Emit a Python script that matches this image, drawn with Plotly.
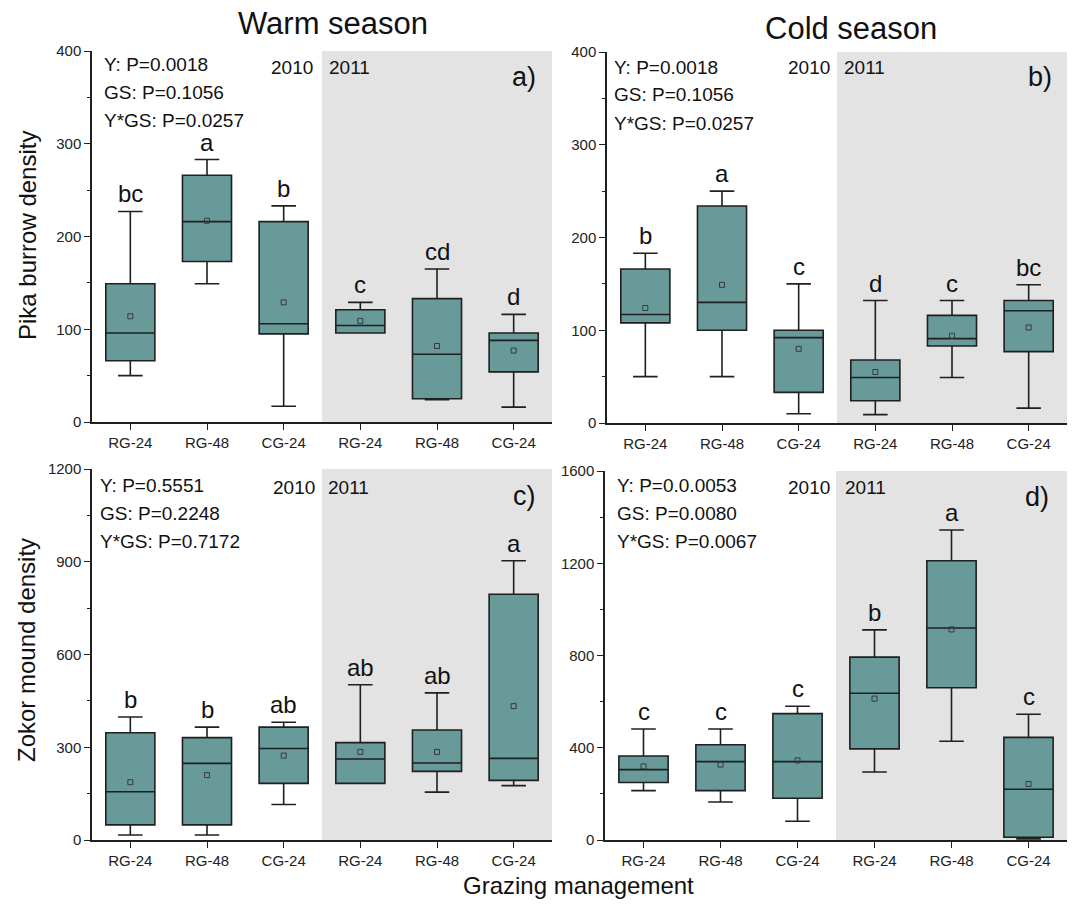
import plotly.graph_objects as go

W, H = 1072, 907
FONT = "Arial, Liberation Sans, Helvetica, sans-serif"

categories = ["RG-24", "RG-48", "CG-24", "RG-24", "RG-48", "CG-24"]

# Panel a: Pika burrow density, warm season
a_lower = [50, 149, 17, 96, 24, 16]
a_q1 = [66, 173, 95, 96, 25, 54]
a_median = [96, 216, 106, 104, 73, 88]
a_q3 = [149, 266, 216, 121, 133, 96]
a_upper = [227, 283, 233, 129, 165, 116]
a_mean = [114, 217, 129, 109, 82, 77]
a_letters = ["bc", "a", "b", "c", "cd", "d"]

# Panel b: Pika burrow density, cold season
b_lower = [50, 50, 10, 9, 49, 16]
b_q1 = [108, 100, 33, 24, 83, 77]
b_median = [117, 130, 92, 49, 91, 121]
b_q3 = [166, 234, 100, 68, 116, 132]
b_upper = [183, 250, 150, 132, 132, 149]
b_mean = [124, 149, 80, 55, 94, 103]
b_letters = ["b", "a", "c", "d", "c", "bc"]

# Panel c: Zokor mound density, warm season
c_lower = [16, 16, 115, 183, 155, 176]
c_q1 = [49, 49, 183, 183, 222, 193]
c_median = [156, 248, 296, 262, 249, 264]
c_q3 = [347, 331, 365, 315, 356, 795]
c_upper = [398, 365, 381, 502, 476, 903]
c_mean = [187, 210, 273, 285, 285, 433]
c_letters = ["b", "b", "ab", "ab", "ab", "a"]

# Panel d: Zokor mound density, cold season
d_lower = [214, 165, 81, 295, 428, 5]
d_q1 = [249, 214, 181, 395, 660, 12]
d_median = [305, 340, 340, 636, 919, 220]
d_q3 = [364, 413, 548, 793, 1211, 445]
d_upper = [481, 481, 580, 911, 1344, 545]
d_mean = [319, 327, 345, 613, 913, 243]
d_letters = ["c", "c", "c", "b", "a", "c"]

stats_a = ["Y: P=0.0018", "GS: P=0.1056", "Y*GS: P=0.0257"]
stats_b = ["Y: P=0.0018", "GS: P=0.1056", "Y*GS: P=0.0257"]
stats_c = ["Y: P=0.5551", "GS: P=0.2248", "Y*GS: P=0.7172"]
stats_d = ["Y: P=0.0.0053", "GS: P=0.0080", "Y*GS: P=0.0067"]

panels = [
    dict(lo=a_lower, q1=a_q1, med=a_median, q3=a_q3, up=a_upper, mean=a_mean, let=a_letters,
         stats=stats_a, tag="a)", yr=400, dt=100, xd=(92, 552), yd=(51, 422),
         st_x=102, st_y=(65, 93, 121), y10=(315, 327, 67), tagpos=(538, 77)),
    dict(lo=b_lower, q1=b_q1, med=b_median, q3=b_q3, up=b_upper, mean=b_mean, let=b_letters,
         stats=stats_b, tag="b)", yr=400, dt=100, xd=(607, 1067), yd=(52, 423),
         st_x=612, st_y=(67, 95, 123), y10=(832, 842, 67), tagpos=(1054, 77)),
    dict(lo=c_lower, q1=c_q1, med=c_median, q3=c_q3, up=c_upper, mean=c_mean, let=c_letters,
         stats=stats_c, tag="c)", yr=1200, dt=300, xd=(92, 552), yd=(469, 840),
         st_x=98, st_y=(485, 513, 541), y10=(317, 326, 487), tagpos=(538, 496)),
    dict(lo=d_lower, q1=d_q1, med=d_median, q3=d_q3, up=d_upper, mean=d_mean, let=d_letters,
         stats=stats_d, tag="d)", yr=1600, dt=400, xd=(605, 1067), yd=(471, 840),
         st_x=615, st_y=(485, 513, 541), y10=(832, 843, 487), tagpos=(1051, 497)),
]

BOX_FILL = "#679a99"
LINE = "#1f1f1f"
SHADE = "#e3e3e3"

def px(x):
    return x / W

def py(y):
    return 1 - y / H

fig = go.Figure()
annotations = []
shapes = []
xpos = list(range(len(categories)))

for i, p in enumerate(panels):
    n = "" if i == 0 else str(i + 1)
    xa, ya = "x" + n, "y" + n
    fig.add_trace(go.Box(
        x=xpos, q1=p["q1"], median=p["med"], q3=p["q3"],
        lowerfence=p["lo"], upperfence=p["up"],
        width=0.64, whiskerwidth=0.5, fillcolor=BOX_FILL,
        line=dict(color=LINE, width=1.6), boxpoints=False,
        xaxis=xa, yaxis=ya, showlegend=False, hoverinfo="skip"))
    fig.add_trace(go.Scatter(
        x=xpos, y=p["mean"], mode="markers",
        marker=dict(symbol="square-open", size=5, color="#3a3a3a", line=dict(width=1)),
        xaxis=xa, yaxis=ya, showlegend=False, hoverinfo="skip"))
    shapes.append(dict(type="rect", xref=xa, yref=ya + " domain", x0=2.5, x1=5.5, y0=0, y1=1,
                       fillcolor=SHADE, line=dict(width=0), layer="below"))
    ax = dict(domain=[px(p["xd"][0]), px(p["xd"][1])], range=[-0.5, 5.5],
              tickvals=xpos, ticktext=categories, ticks="outside", ticklen=6, tickwidth=1.3,
              tickcolor=LINE, showline=True, linecolor=LINE, linewidth=1.5,
              showgrid=False, zeroline=False, anchor=ya, automargin=False,
              tickfont=dict(family=FONT, size=15, color="#222"))
    ay = dict(domain=[py(p["yd"][1]), py(p["yd"][0])], range=[0, p["yr"]], dtick=p["dt"],
              ticks="outside", ticklen=6, tickwidth=1.3, tickcolor=LINE,
              minor=dict(ticks="outside", ticklen=3, tickwidth=1.2, tickcolor=LINE, dtick=p["dt"] / 2),
              showline=True, linecolor=LINE, linewidth=1.5, showgrid=False, zeroline=False,
              anchor=xa, automargin=False, tickfont=dict(family=FONT, size=15, color="#222"))
    fig.update_layout(**{"xaxis" + n: ax, "yaxis" + n: ay})
    # significance letters
    for j, (lab, up) in enumerate(zip(p["let"], p["up"])):
        annotations.append(dict(x=j, y=up, xref=xa, yref=ya, text=lab, showarrow=False,
                                yanchor="bottom", yshift=2,
                                font=dict(family=FONT, size=24, color="#111")))
    # stats text
    for t, yy in zip(p["stats"], p["st_y"]):
        annotations.append(dict(x=px(p["st_x"]), y=py(yy), xref="paper", yref="paper", text=t,
                                showarrow=False, xanchor="left", yanchor="middle",
                                font=dict(family=FONT, size=19, color="#111")))
    annotations.append(dict(x=px(p["y10"][0]), y=py(p["y10"][2]), xref="paper", yref="paper",
                            text="2010", showarrow=False, xanchor="right", yanchor="middle",
                            font=dict(family=FONT, size=19, color="#111")))
    annotations.append(dict(x=px(p["y10"][1]), y=py(p["y10"][2]), xref="paper", yref="paper",
                            text="2011", showarrow=False, xanchor="left", yanchor="middle",
                            font=dict(family=FONT, size=19, color="#111")))
    annotations.append(dict(x=px(p["tagpos"][0]), y=py(p["tagpos"][1]), xref="paper", yref="paper",
                            text=p["tag"], showarrow=False, xanchor="right", yanchor="middle",
                            font=dict(family=FONT, size=27, color="#111")))

annotations += [
    dict(x=px(333), y=py(23), xref="paper", yref="paper", text="Warm season", showarrow=False,
         xanchor="center", yanchor="middle", font=dict(family=FONT, size=31, color="#111")),
    dict(x=px(851), y=py(28), xref="paper", yref="paper", text="Cold season", showarrow=False,
         xanchor="center", yanchor="middle", font=dict(family=FONT, size=31, color="#111")),
    dict(x=px(27), y=py(236), xref="paper", yref="paper", text="Pika burrow density",
         showarrow=False, textangle=-90, xanchor="center", yanchor="middle",
         font=dict(family=FONT, size=24, color="#111")),
    dict(x=px(26), y=py(650), xref="paper", yref="paper", text="Zokor mound density",
         showarrow=False, textangle=-90, xanchor="center", yanchor="middle",
         font=dict(family=FONT, size=24, color="#111")),
    dict(x=px(578), y=py(885), xref="paper", yref="paper", text="Grazing management",
         showarrow=False, xanchor="center", yanchor="middle",
         font=dict(family=FONT, size=24, color="#111")),
]

fig.update_layout(width=W, height=H, margin=dict(l=0, r=0, t=0, b=0, pad=0, autoexpand=False),
                  paper_bgcolor="white", plot_bgcolor="white",
                  annotations=annotations, shapes=shapes, showlegend=False)

fig.write_html("out.html", config={"displayModeBar": False},
               post_script="document.body.style.margin='0px';document.body.style.overflow='hidden';")
